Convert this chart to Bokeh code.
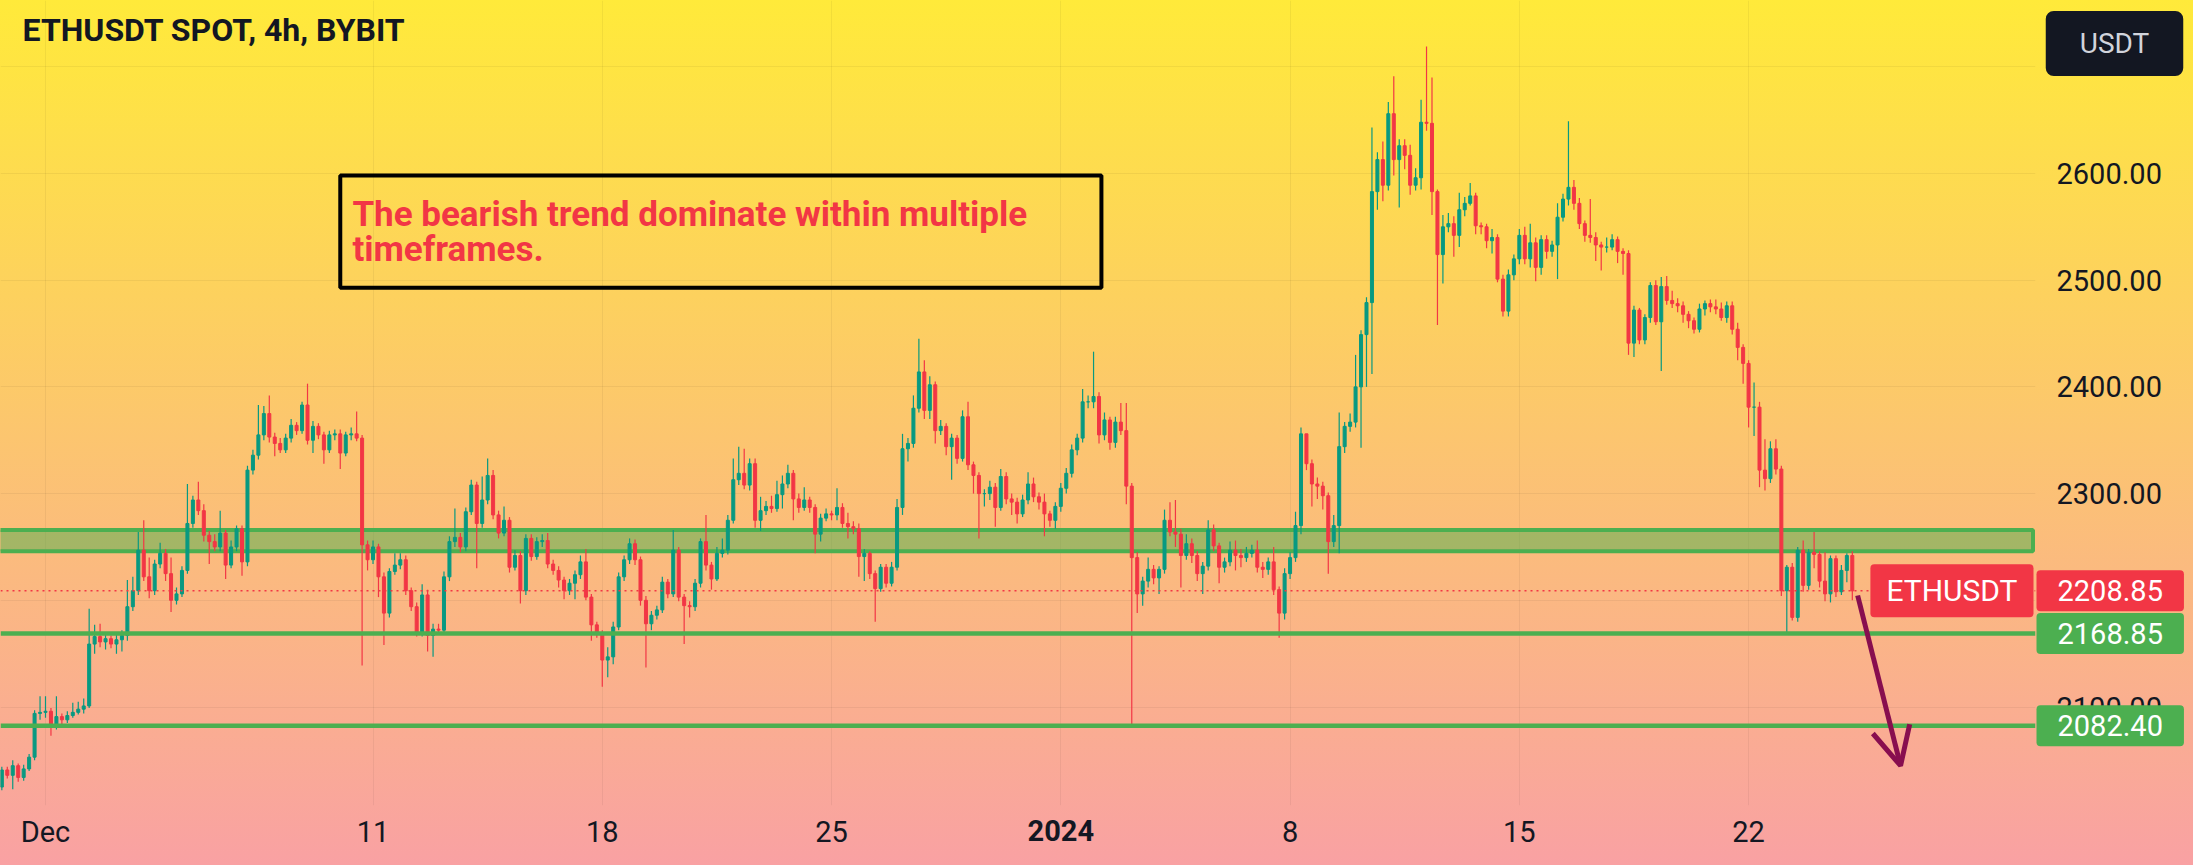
import pandas as pd
from bokeh.plotting import figure
from bokeh.models import (Span, Label, FixedTicker, NumeralTickFormatter, Range1d,
                          Arrow, OpenHead, ColumnDataSource)
from bokeh.core.properties import value
from bokeh.embed import file_html
from bokeh.resources import INLINE

# ---------------- data ----------------
chart_title = "ETHUSDT SPOT, 4h, BYBIT"
first_candle_time = "2023-11-29 16:00"
candle_hours = 4
first_open = 2025.0

closes = [
    2041, 2036, 2045, 2034, 2042, 2053, 2094, 2095, 2096, 2081,
    2091, 2088, 2092, 2095, 2098, 2101, 2159, 2166, 2161, 2164,
    2159, 2163, 2167, 2194, 2209, 2247, 2222, 2209, 2234, 2244,
    2225, 2200, 2206, 2228, 2272, 2294, 2284, 2261, 2255, 2250,
    2263, 2233, 2250, 2267, 2236, 2322, 2336, 2355, 2375, 2353,
    2347, 2341, 2352, 2364, 2359, 2383, 2350, 2363, 2355, 2341,
    2355, 2356, 2338, 2355, 2356, 2352, 2252, 2238, 2250, 2222,
    2188, 2227, 2233, 2238, 2209, 2194, 2170, 2205, 2167, 2173,
    2172, 2222, 2255, 2259, 2250, 2283, 2308, 2272, 2294, 2317,
    2280, 2263, 2275, 2231, 2242, 2209, 2258, 2241, 2255, 2256,
    2234, 2228, 2219, 2209, 2216, 2224, 2236, 2203, 2177, 2169,
    2144, 2147, 2175, 2222, 2238, 2253, 2238, 2200, 2178, 2186,
    2191, 2217, 2206, 2247, 2203, 2195, 2194, 2216, 2255, 2233,
    2220, 2244, 2247, 2275, 2313, 2319, 2308, 2328, 2275, 2284,
    2288, 2286, 2299, 2309, 2319, 2295, 2287, 2294, 2287, 2262,
    2277, 2281, 2280, 2287, 2272, 2269, 2267, 2241, 2244, 2225,
    2211, 2231, 2216, 2231, 2287, 2342, 2347, 2380, 2414, 2378,
    2402, 2359, 2363, 2344, 2352, 2333, 2372, 2327, 2317, 2300,
    2300, 2306, 2287, 2316, 2295, 2292, 2281, 2294, 2309, 2297,
    2292, 2281, 2275, 2288, 2305, 2319, 2341, 2352, 2386, 2386,
    2391, 2355, 2369, 2348, 2367, 2359, 2307, 2240, 2206, 2218,
    2229, 2221, 2229, 2275, 2264, 2262, 2242, 2253, 2242, 2225,
    2232, 2266, 2251, 2231, 2236, 2247, 2242, 2240, 2244, 2247,
    2231, 2229, 2236, 2210, 2188, 2225, 2240, 2270, 2356, 2328,
    2309, 2307, 2298, 2255, 2270, 2344, 2363, 2367, 2400, 2449,
    2479, 2583, 2613, 2589, 2656, 2613, 2626, 2617, 2589, 2596,
    2648, 2647, 2583, 2524, 2550, 2553, 2542, 2566, 2572, 2579,
    2551, 2550, 2537, 2540, 2501, 2471, 2505, 2520, 2542, 2520,
    2535, 2512, 2538, 2527, 2533, 2559, 2576, 2587, 2572, 2553,
    2542, 2540, 2533, 2531, 2531, 2538, 2527, 2525, 2441, 2472,
    2444, 2465, 2495, 2461, 2494, 2481, 2478, 2476, 2468, 2462,
    2454, 2473, 2478, 2475, 2473, 2465, 2476, 2454, 2437, 2422,
    2381, 2381, 2322, 2314, 2342, 2323, 2209, 2231, 2184, 2247,
    2214, 2245, 2243, 2218, 2206, 2239, 2208, 2228, 2242, 2208.85,
]

highs = [
    2044, 2044, 2050, 2047, 2046, 2056, 2097, 2110, 2110, 2099,
    2110, 2094, 2096, 2104, 2105, 2108, 2192, 2177, 2178, 2169,
    2167, 2168, 2172, 2219, 2222, 2264, 2275, 2240, 2238, 2254,
    2248, 2240, 2212, 2232, 2309, 2298, 2311, 2290, 2265, 2262,
    2284, 2266, 2256, 2270, 2270, 2326, 2341, 2383, 2382, 2392,
    2357, 2352, 2356, 2370, 2367, 2386, 2403, 2368, 2366, 2358,
    2359, 2360, 2360, 2358, 2362, 2377, 2355, 2256, 2256, 2253,
    2226, 2230, 2244, 2244, 2242, 2212, 2198, 2215, 2210, 2178,
    2178, 2227, 2260, 2286, 2263, 2287, 2313, 2311, 2316, 2333,
    2322, 2284, 2288, 2278, 2247, 2246, 2262, 2262, 2259, 2262,
    2263, 2238, 2232, 2222, 2220, 2228, 2242, 2248, 2206, 2180,
    2172, 2156, 2180, 2226, 2242, 2258, 2257, 2241, 2204, 2190,
    2195, 2222, 2220, 2266, 2250, 2206, 2199, 2220, 2258, 2280,
    2236, 2250, 2258, 2280, 2333, 2344, 2342, 2333, 2333, 2297,
    2293, 2298, 2312, 2317, 2327, 2322, 2300, 2306, 2297, 2290,
    2281, 2286, 2284, 2305, 2291, 2282, 2274, 2272, 2248, 2246,
    2228, 2234, 2234, 2236, 2295, 2356, 2352, 2392, 2445, 2425,
    2410, 2405, 2369, 2366, 2356, 2355, 2378, 2386, 2330, 2320,
    2304, 2312, 2310, 2323, 2320, 2300, 2296, 2299, 2320, 2315,
    2301, 2300, 2284, 2292, 2310, 2324, 2346, 2356, 2398, 2392,
    2433, 2395, 2376, 2372, 2372, 2385, 2385, 2310, 2245, 2222,
    2240, 2233, 2232, 2285, 2292, 2294, 2267, 2262, 2258, 2246,
    2236, 2275, 2271, 2254, 2240, 2255, 2256, 2248, 2250, 2252,
    2256, 2236, 2240, 2250, 2213, 2230, 2245, 2283, 2362, 2356,
    2332, 2315, 2311, 2301, 2280, 2376, 2367, 2375, 2430, 2453,
    2484, 2643, 2620, 2630, 2667, 2691, 2632, 2632, 2627, 2605,
    2669, 2719, 2690, 2585, 2561, 2563, 2560, 2582, 2578, 2591,
    2582, 2554, 2553, 2548, 2543, 2505, 2510, 2524, 2548, 2550,
    2553, 2540, 2542, 2542, 2537, 2572, 2581, 2649, 2594, 2577,
    2556, 2576, 2545, 2536, 2540, 2543, 2541, 2530, 2528, 2476,
    2474, 2468, 2498, 2500, 2503, 2504, 2490, 2483, 2480, 2471,
    2465, 2478, 2481, 2482, 2482, 2479, 2480, 2480, 2460, 2440,
    2425, 2404, 2386, 2351, 2349, 2351, 2326, 2233, 2235, 2250,
    2256, 2248, 2264, 2246, 2245, 2242, 2242, 2233, 2244, 2246,
]

lows = [
    2022, 2033, 2023, 2030, 2031, 2040, 2050, 2088, 2090, 2073,
    2079, 2084, 2085, 2090, 2093, 2094, 2099, 2150, 2156, 2154,
    2155, 2150, 2152, 2162, 2190, 2205, 2218, 2202, 2205, 2230,
    2218, 2189, 2196, 2203, 2225, 2268, 2280, 2255, 2234, 2246,
    2246, 2220, 2230, 2246, 2223, 2232, 2318, 2332, 2350, 2348,
    2335, 2338, 2338, 2348, 2355, 2356, 2346, 2338, 2351, 2328,
    2338, 2350, 2323, 2335, 2350, 2349, 2139, 2228, 2234, 2203,
    2158, 2184, 2224, 2229, 2205, 2190, 2166, 2166, 2152, 2147,
    2168, 2168, 2218, 2250, 2245, 2246, 2280, 2230, 2268, 2290,
    2276, 2258, 2260, 2226, 2228, 2197, 2205, 2237, 2238, 2250,
    2230, 2224, 2212, 2201, 2205, 2201, 2220, 2200, 2162, 2165,
    2119, 2128, 2140, 2172, 2218, 2234, 2233, 2195, 2137, 2172,
    2182, 2188, 2202, 2203, 2199, 2159, 2184, 2190, 2212, 2228,
    2210, 2218, 2240, 2243, 2272, 2308, 2304, 2303, 2268, 2265,
    2280, 2282, 2283, 2286, 2305, 2275, 2282, 2284, 2282, 2244,
    2255, 2274, 2275, 2275, 2268, 2258, 2262, 2222, 2218, 2220,
    2180, 2208, 2212, 2213, 2228, 2280, 2330, 2343, 2376, 2370,
    2370, 2347, 2355, 2336, 2313, 2328, 2330, 2322, 2300, 2258,
    2288, 2294, 2269, 2284, 2290, 2280, 2272, 2278, 2290, 2292,
    2285, 2260, 2269, 2267, 2283, 2300, 2315, 2336, 2348, 2380,
    2380, 2347, 2350, 2341, 2343, 2355, 2290, 2082, 2188, 2195,
    2212, 2215, 2206, 2225, 2260, 2250, 2212, 2238, 2235, 2218,
    2206, 2228, 2246, 2216, 2226, 2232, 2228, 2231, 2236, 2240,
    2226, 2221, 2224, 2205, 2165, 2182, 2220, 2236, 2262, 2322,
    2288, 2295, 2285, 2225, 2250, 2244, 2338, 2358, 2362, 2343,
    2400, 2412, 2566, 2574, 2584, 2598, 2568, 2604, 2580, 2584,
    2585, 2640, 2561, 2458, 2497, 2545, 2522, 2531, 2560, 2570,
    2543, 2543, 2530, 2525, 2498, 2466, 2466, 2500, 2515, 2515,
    2512, 2499, 2505, 2520, 2522, 2501, 2555, 2570, 2566, 2548,
    2536, 2535, 2518, 2509, 2526, 2528, 2516, 2505, 2430, 2428,
    2440, 2440, 2460, 2458, 2415, 2477, 2474, 2470, 2460, 2455,
    2450, 2451, 2467, 2470, 2468, 2462, 2460, 2449, 2425, 2403,
    2362, 2354, 2306, 2303, 2310, 2318, 2204, 2169, 2181, 2180,
    2208, 2210, 2230, 2212, 2199, 2198, 2203, 2205, 2217, 2200,
]

support_levels = [2168.85, 2082.40]
support_labels = ["2168.85", "2082.40"]
zone_low, zone_high = 2246.0, 2266.0
last_price = 2208.85
last_price_text = "2208.85"
ticker_name = "ETHUSDT"
currency = "USDT"

x_tick_dates = ["2023-12-01", "2023-12-11", "2023-12-18", "2023-12-25",
                "2024-01-01", "2024-01-08", "2024-01-15", "2024-01-22"]
x_tick_labels = ["Dec", "11", "18", "25", "2024", "8", "15", "22"]
bold_tick_label = "2024"
y_ticks = [2100, 2200, 2300, 2400, 2500, 2600, 2700]
hidden_y_labels = [2200, 2700]   # covered by the price tag / currency box in the reference

note_lines = ["The bearish trend dominate within multiple", "timeframes."]

# drawing anchors (TradingView drawings: day offsets from Dec 1, price)
note_box = dict(d0=9.0, d1=32.24, top=2598.0, bottom=2493.0)
note_text_pos = dict(d=9.37, y1=2562.0, y2=2529.0)
arrow_pts = dict(d0=55.33, p0=2204.5, d1=56.64, p1=2045.0)
view_days = (-1.374, 60.76)
view_prices = (2007.7, 2762.1)

# ---------------- build ----------------
H = 3600 * 1000
DAY = 24 * H
W, HT = 2193, 865
FRAME_W, FRAME_H = 2035, 805


def ms(s):
    return int(pd.Timestamp(s).value // 10**6)


dec1 = ms("2023-12-01")
t0 = ms(first_candle_time)
n = min(len(closes), len(highs), len(lows))
times = [t0 + i * candle_hours * H for i in range(n)]
opens = [first_open] + list(closes[:n - 1])
cl = list(closes[:n])
hi = [max(h, o, c) for h, o, c in zip(highs, opens, cl)]
lo = [min(l, o, c) for l, o, c in zip(lows, opens, cl)]
UP, DN = "#089981", "#F23645"
GREEN = "#4CAF50"
col = [UP if c >= o else DN for o, c in zip(opens, cl)]
src = ColumnDataSource(dict(t=times, o=opens, c=cl, h=hi, l=lo,
                            top=[max(o, c) for o, c in zip(opens, cl)],
                            bot=[min(o, c) for o, c in zip(opens, cl)],
                            col=col))

x_start = dec1 + view_days[0] * DAY
x_end = dec1 + view_days[1] * DAY
ms_per_px = (x_end - x_start) / FRAME_W
price_per_px = (view_prices[1] - view_prices[0]) / FRAME_H
FONT = "Roboto"
TXT = "#131722"

p = figure(width=W, height=HT, output_backend="svg", toolbar_location=None,
           x_range=Range1d(x_start, x_end), y_range=Range1d(*view_prices),
           y_axis_location="right", min_border_left=0, min_border_right=W - FRAME_W,
           min_border_top=0, min_border_bottom=HT - FRAME_H)
p.border_fill_color = None
p.background_fill_color = None
p.outline_line_color = None
p.styles = {"background": "linear-gradient(180deg, #FFEA3A 0%, #F9A1A3 100%)"}

x_ticks = [ms(d) for d in x_tick_dates]
p.xaxis.ticker = FixedTicker(ticks=x_ticks)
p.xaxis.major_label_overrides = {t: ("" if lab == bold_tick_label else lab)
                                 for t, lab in zip(x_ticks, x_tick_labels)}
p.yaxis.ticker = FixedTicker(ticks=y_ticks)
p.yaxis.formatter = NumeralTickFormatter(format="0.00")
p.yaxis.major_label_overrides = {v: "" for v in hidden_y_labels}
for ax in (p.xaxis[0], p.yaxis[0]):
    ax.axis_line_color = None
    ax.major_tick_line_color = None
    ax.minor_tick_line_color = None
    ax.major_tick_out = 0
    ax.major_tick_in = 0
    ax.major_label_text_font = FONT
    ax.major_label_text_font_size = "29px"
    ax.major_label_text_color = TXT
p.xaxis.major_label_standoff = 9
p.yaxis.major_label_standoff = 21
p.xgrid.grid_line_color = "#000000"
p.xgrid.grid_line_alpha = 0.05
p.ygrid.grid_line_color = "#000000"
p.ygrid.grid_line_alpha = 0.05

# zone
p.quad(left=[x_start - DAY], right=[x_end - 2.5 * ms_per_px], bottom=[zone_low], top=[zone_high],
       fill_color=GREEN, fill_alpha=0.5, line_color=GREEN, line_width=4)

# candles
p.segment(x0="t", y0="h", x1="t", y1="l", line_color="col", line_width=1.2, source=src)
p.vbar(x="t", width=0.55 * candle_hours * H, top="top", bottom="bot",
       fill_color="col", line_color="col", line_width=1, source=src)

# lines
for lvl in support_levels:
    p.add_layout(Span(location=lvl, dimension="width", line_color=GREEN, line_width=4.5))
p.add_layout(Span(location=last_price, dimension="width", line_color=DN,
                  line_width=1.5, line_dash="2 4"))

# note box
p.quad(left=[dec1 + note_box["d0"] * DAY], right=[dec1 + note_box["d1"] * DAY],
       top=[note_box["top"]], bottom=[note_box["bottom"]], fill_color=None,
       line_color="black", line_width=4)
tx = dec1 + note_text_pos["d"] * DAY
p.text(x=[tx, tx], y=[note_text_pos["y1"], note_text_pos["y2"]], text=note_lines,
       text_font=value(FONT), text_font_style="bold", text_font_size="35px",
       text_color=DN, text_baseline="middle", text_align="left")

# arrow
p.add_layout(Arrow(x_start=dec1 + arrow_pts["d0"] * DAY, y_start=arrow_pts["p0"],
                   x_end=dec1 + arrow_pts["d1"] * DAY, y_end=arrow_pts["p1"],
                   line_color="#880E4F", line_width=5,
                   end=OpenHead(size=38, line_color="#880E4F", line_width=5)))

# title
p.add_layout(Label(x=dec1 - 0.70 * DAY, y=2734, text=chart_title, text_font=FONT,
                   text_font_style="bold", text_font_size="32px", text_color=TXT,
                   text_baseline="middle", text_align="left"))

# ticker tag (inside the frame)
p.add_layout(Label(x=x_end, x_offset=-2, y=last_price, text=ticker_name, text_font=FONT,
                   text_font_size="30px", text_color="white", text_align="right",
                   text_baseline="middle", anchor="center_right",
                   background_fill_color=DN, padding=(16, 9), border_radius=4))

# ---------- overlay canvas (same scales, full-size frame) for tags over the axes ----------
q = figure(width=W, height=HT, output_backend="svg", toolbar_location=None,
           x_range=Range1d(x_start, x_start + W * ms_per_px),
           y_range=Range1d(view_prices[0] - (HT - FRAME_H) * price_per_px, view_prices[1]),
           x_axis_location=None, y_axis_location=None,
           min_border_left=0, min_border_right=0, min_border_top=0, min_border_bottom=0)
q.border_fill_color = None
q.background_fill_color = None
q.outline_line_color = None
q.xgrid.grid_line_color = None
q.ygrid.grid_line_color = None
q.styles = {"position": "absolute", "top": "0px", "left": "0px"}


def axis_tag(y, txt, color):
    q.add_layout(Label(x=x_end, x_offset=1, y=y, text=txt, text_font=FONT,
                       text_font_size="29px", text_color="white", text_align="left",
                       text_baseline="middle", anchor="center_left",
                       background_fill_color=color, padding=(21, 10), border_radius=4))


axis_tag(last_price, last_price_text, DN)
for lvl, txt in zip(support_levels, support_labels):
    axis_tag(lvl, txt, GREEN)

q.add_layout(Label(x=x_end + 79 * ms_per_px, y=2721.8, text=currency, text_font=FONT,
                   text_font_size="28px", text_color="#D1D4DC", text_align="center",
                   text_baseline="middle", anchor="center", background_fill_color="#131722",
                   padding=(34, 16), border_radius=8))

q.add_layout(Label(x=x_ticks[x_tick_labels.index(bold_tick_label)],
                   y=view_prices[0] - 25 * price_per_px, text=bold_tick_label,
                   text_font=FONT, text_font_style="bold", text_font_size="29px",
                   text_color=TXT, text_align="center", text_baseline="middle",
                   anchor="center"))

open("out.html", "w").write(file_html([p, q], INLINE))
